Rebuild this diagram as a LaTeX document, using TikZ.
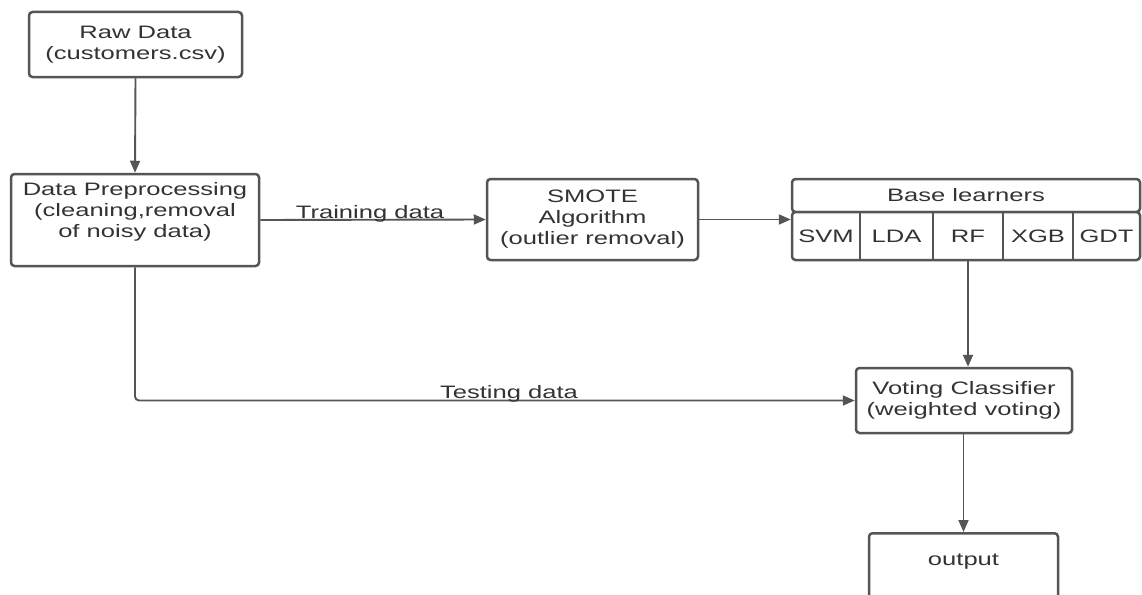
\documentclass[tikz,border=0pt]{standalone}
\usepackage{fontspec}
\setmainfont{Liberation Sans}[FakeStretch=1.42]
\usetikzlibrary{arrows.meta}
\definecolor{ln}{HTML}{555555}
\definecolor{tx}{HTML}{333333}
\tikzset{
  box/.style={draw=ln, line width=2.5pt, rounded corners=3.5pt, fill=white, align=center,
    text=tx, inner sep=0pt, font=\fontsize{18}{21}\selectfont},
  cell/.style={inner sep=0pt, text=tx, font=\fontsize{18}{21}\selectfont},
  lbl/.style={inner sep=0pt, text=tx, font=\fontsize{18}{21}\selectfont},
  conn/.style={draw=ln, line width=1.9pt, -{Triangle[length=12pt,width=10pt]}},
  divider/.style={draw=ln, line width=2.5pt}
}
\begin{document}
\begin{tikzpicture}[x=1pt,y=-1pt]
\useasboundingbox (0,0) rectangle (1142,594);
\fill[white] (0,0) rectangle (1142,594);
% boxes
\node[box, minimum width=213, minimum height=65] (raw) at (135.5,44.5) {Raw Data\\(customers.csv)};
\node[box, minimum width=248, minimum height=92] (prep) at (135,220) {Data Preprocessing\\(cleaning,removal\\of noisy data)\\~};
\node[box, minimum width=211, minimum height=81] (smote) at (592.5,219.5) {SMOTE\\Algorithm\\(outlier removal)};
\node[box, minimum width=348, minimum height=33] (head) at (966,195.5) {Base learners};
\node[box, minimum width=348, minimum height=48] (row) at (966,236) {};
\node[cell, minimum width=68, minimum height=48] (svm) at (826,236) {SVM};
\node[cell, minimum width=73, minimum height=48] (lda) at (896.5,236) {LDA};
\node[cell, minimum width=70, minimum height=48] (rf) at (968,236) {RF};
\node[cell, minimum width=70, minimum height=48] (xgb) at (1038,236) {XGB};
\node[cell, minimum width=67, minimum height=48] (gdt) at (1106.5,236) {GDT};
\draw[divider] (svm.north east) -- (svm.south east);
\draw[divider] (lda.north east) -- (lda.south east);
\draw[divider] (rf.north east) -- (rf.south east);
\draw[divider] (xgb.north east) -- (xgb.south east);
\node[box, minimum width=216, minimum height=65] (vote) at (964,400.5) {Voting Classifier\\(weighted voting)};
\node[box, minimum width=189, minimum height=76, anchor=north] (out) at (963.5,532) {};
\node[lbl] (outlbl) at (963.5,562) {output};
% connectors
\draw[conn] (raw.south) -- (prep.north);
\draw[conn] (prep.east) -- (smote.west);
\node[lbl, anchor=base] (train) at (370,218) {Training data};
\draw[conn] (smote.east) -- (smote.east -| row.west);
\draw[conn] (rf.south) -- (rf.south |- vote.north);
\draw[conn, rounded corners=4pt] (prep.south) |- (vote.west);
\node[lbl, anchor=base] (test) at (509,398) {Testing data};
\draw[conn] (vote.south -| out.north) -- (out.north);
\end{tikzpicture}
\end{document}
